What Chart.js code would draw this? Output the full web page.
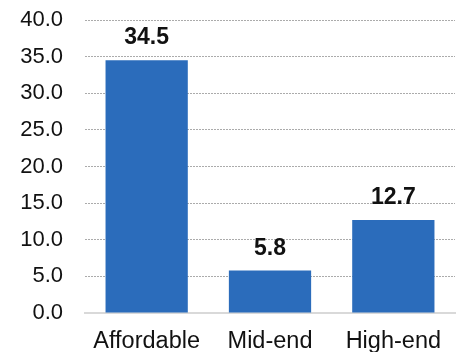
<!DOCTYPE html>
<html><head><meta charset="utf-8">
<script src="https://cdn.jsdelivr.net/npm/chart.js@4"></script>
<style>html,body{margin:0;padding:0;background:#fff;}#wrap{width:459px;height:352px;}</style>
</head><body><div id="wrap"><canvas id="c"></canvas></div>
<script>
const categories = ["Affordable", "Mid-end", "High-end"];
const values = [34.5, 5.8, 12.7];
const yTicks = [0, 5, 10, 15, 20, 25, 30, 35, 40];

const FONT = "'Liberation Sans', Arial, sans-serif";

const labelPlugin = {
  id: 'valueLabels',
  afterDatasetsDraw(chart) {
    const ctx = chart.ctx;
    const meta = chart.getDatasetMeta(0);
    ctx.save();
    ctx.font = "bold 23px " + FONT;
    ctx.fillStyle = '#111';
    ctx.textAlign = 'center';
    ctx.textBaseline = 'alphabetic';
    meta.data.forEach((bar, i) => {
      ctx.fillText(values[i].toFixed(1), bar.x, bar.y - 16);
    });
    ctx.restore();
  }
};

new Chart(document.getElementById('c'), {
  type: 'bar',
  data: {
    labels: categories,
    datasets: [{
      data: values,
      backgroundColor: '#2B6CBB',
      categoryPercentage: 1.0,
      barPercentage: 0.667
    }]
  },
  options: {
    responsive: true,
    maintainAspectRatio: false,
    animation: false,
    layout: { padding: { top: 20, right: 4, left: 0, bottom: 0 } },
    plugins: { legend: { display: false }, tooltip: { enabled: false } },
    scales: {
      x: {
        grid: { display: false, drawTicks: false },
        border: { display: true, color: '#d9d9d9', width: 2 },
        ticks: { color: '#111', font: { family: FONT, size: 23.5 }, padding: 14, maxRotation: 0 },
        afterFit(s) { s.height = 39; s.paddingLeft = 0; s.paddingRight = 0; }
      },
      y: {
        min: 0, max: 40,
        afterBuildTicks(s) { s.ticks = yTicks.map(v => ({ value: v })); },
        grid: {
          drawTicks: false,
          color: (c) => (c.tick && c.tick.value === 0) ? 'rgba(0,0,0,0)' : '#ababab',
          lineWidth: 1
        },
        border: { display: false, dash: [2, 1] },
        ticks: {
          color: '#111', font: { family: FONT, size: 22 }, padding: 22,
          callback: (v) => Number(v).toFixed(1)
        },
        afterFit(s) { s.width = 85; s.paddingTop = 0; s.paddingBottom = 0; }
      }
    }
  },
  plugins: [labelPlugin]
});
</script></body></html>
